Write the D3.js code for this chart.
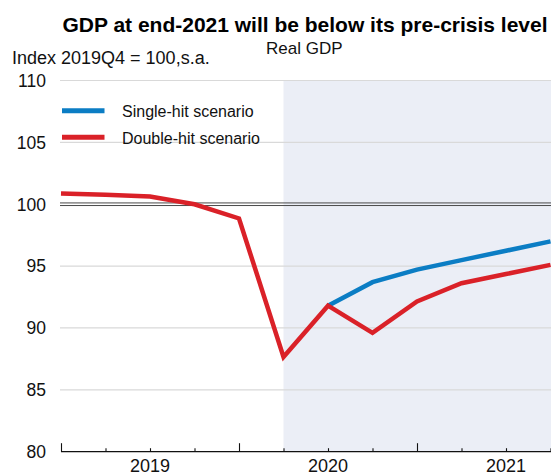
<!DOCTYPE html>
<html>
<head>
<meta charset="utf-8">
<script src="https://cdn.jsdelivr.net/npm/d3@7"></script>
<style>
  html, body { margin: 0; padding: 0; background: #fff; }
  svg { display: block; font-family: "Liberation Sans", Arial, sans-serif; }
</style>
</head>
<body>
<svg id="chart" width="551" height="474"></svg>
<script>
// Quarterly real GDP, index 2019Q4 = 100
const quarters = ["2019Q1","2019Q2","2019Q3","2019Q4","2020Q1","2020Q2","2020Q3","2020Q4","2021Q1","2021Q2","2021Q3","2021Q4"];
const singleHit = [100.86, 100.77, 100.62, 100.0, 98.85, 87.65, 91.8, 93.7, 94.72, 95.48, 96.24, 97.0];
const doubleHit = [100.86, 100.77, 100.62, 100.0, 98.85, 87.65, 91.8, 89.6, 92.15, 93.62, 94.36, 95.1];
const singleStart = 6;              // single-hit path diverges from 2020Q3
const projectionStart = "2020Q2";   // shaded projection period
const yearLabels = [{ q: "2019Q3", text: "2019" }, { q: "2020Q3", text: "2020" }, { q: "2021Q3", text: "2021" }];
const yearStarts = ["2019Q1", "2020Q1", "2021Q1"];
const yTicks = [80, 85, 90, 95, 100, 105, 110];

const BLUE = "#0b7dc4", RED = "#da2128";

const svg = d3.select("#chart");
const W = 551, H = 474;
const m = { left: 61, right: 0.5, top: 80.5, bottom: 22.3 };

const x = d3.scalePoint().domain(quarters).range([m.left, W - m.right]);
const y = d3.scaleLinear().domain([80, 110]).range([H - m.bottom, m.top]);

// projection shading
svg.append("rect")
  .attr("x", x(projectionStart)).attr("y", y(110))
  .attr("width", W - x(projectionStart)).attr("height", y(80) - y(110))
  .attr("fill", "#ebeef6");

// horizontal grid
svg.append("g").selectAll("line")
  .data(yTicks.filter(v => v !== 80 && v !== 100))
  .join("line")
  .attr("x1", m.left - 1).attr("x2", W)
  .attr("y1", d => y(d)).attr("y2", d => y(d))
  .attr("stroke", "#d9d9d9").attr("stroke-width", 1.2);

// double reference line at 100
[-1.3, 1.3].forEach(o => {
  svg.append("line")
    .attr("x1", m.left - 1).attr("x2", W)
    .attr("y1", y(100) + o).attr("y2", y(100) + o)
    .attr("stroke", "#4a4a4a").attr("stroke-width", 1);
});

// y tick labels
svg.append("g").selectAll("text")
  .data(yTicks).join("text")
  .attr("x", 46).attr("y", d => y(d))
  .attr("dy", "0.36em").attr("text-anchor", "end")
  .attr("font-size", 17.5).attr("fill", "#111")
  .text(d => d);

// x axis
const xAxis = d3.axisBottom(x).tickSize(0).tickFormat("");
const gx = svg.append("g").attr("transform", `translate(0,${y(80)})`).call(xAxis);
gx.select(".domain").attr("d", `M${m.left},0H${W}`).attr("stroke", "#111").attr("stroke-width", 1.3);
gx.selectAll(".tick line")
  .attr("y2", d => yearStarts.includes(d) ? -8.5 : -3.5)
  .attr("stroke", "#111").attr("stroke-width", 1.1);

svg.append("g").selectAll("text")
  .data(yearLabels).join("text")
  .attr("x", d => x(d.q)).attr("y", 471.5)
  .attr("text-anchor", "middle").attr("font-size", 18).attr("fill", "#111")
  .text(d => d.text);

// series lines
const line = d3.line().x(d => x(d.q)).y(d => y(d.v));
const singleData = quarters.map((q, i) => ({ q, v: singleHit[i] })).slice(singleStart);
const doubleData = quarters.map((q, i) => ({ q, v: doubleHit[i] }));

svg.append("path").datum(singleData).attr("d", line)
  .attr("fill", "none").attr("stroke", BLUE).attr("stroke-width", 4.5)
  .attr("stroke-linejoin", "miter");
svg.append("path").datum(doubleData).attr("d", line)
  .attr("fill", "none").attr("stroke", RED).attr("stroke-width", 4.5)
  .attr("stroke-linejoin", "miter");

// legend
const legend = [{ name: "Single-hit scenario", color: BLUE, y: 110.8 }, { name: "Double-hit scenario", color: RED, y: 137.3 }];
const lg = svg.append("g");
legend.forEach(l => {
  lg.append("line").attr("x1", 62).attr("x2", 104.5).attr("y1", l.y).attr("y2", l.y)
    .attr("stroke", l.color).attr("stroke-width", 5);
  lg.append("text").attr("x", 122).attr("y", l.y + 6.3)
    .attr("font-size", 16).attr("fill", "#111").text(l.name);
});

// titles
svg.append("text").attr("x", 305).attr("y", 32)
  .attr("text-anchor", "middle").attr("font-size", 21).attr("font-weight", "bold").attr("fill", "#000")
  .text("GDP at end-2021 will be below its pre-crisis level");
svg.append("text").attr("x", 266).attr("y", 54)
  .attr("font-size", 17).attr("fill", "#111").text("Real GDP");
svg.append("text").attr("x", 12).attr("y", 63.5)
  .attr("font-size", 18).attr("fill", "#111").text("Index 2019Q4 = 100,s.a.");
</script>
</body>
</html>
